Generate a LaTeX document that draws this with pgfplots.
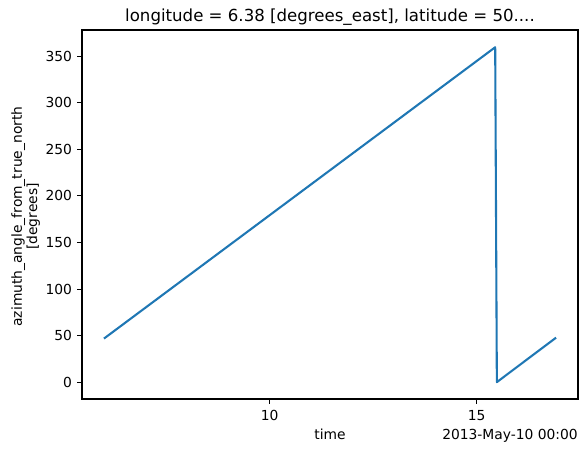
\documentclass[border=0pt]{standalone}
\usepackage{fontspec}
\setmainfont{DejaVu Sans}
\usepackage{pgfplots}
\pgfplotsset{compat=1.18}
\definecolor{mplblue}{HTML}{1F77B4}
\begin{document}
\begin{tikzpicture}[font=\fontsize{10}{12}\selectfont]
\useasboundingbox (0,0) rectangle (423.36bp,326.16bp);
\begin{axis}[
  at={(59.04bp,38.88bp)}, anchor=south west,
  scale only axis, width=357.12bp, height=265.68bp,
  xmin=5.47, xmax=17.45, ymin=-17.8, ymax=378,
  xtick={10,15}, ytick={0,50,...,350},
  xtick pos=left, ytick pos=left,
  tick align=outside, major tick length=3.5bp,
  every tick/.style={line width=0.8bp, black},
  axis line style={line width=0.8bp},
  /pgf/number format/assume math mode=true,
  xticklabel style={anchor=base, inner sep=0pt, font=\fontsize{10}{12}\selectfont},
  xticklabel shift=12.1bp,
  yticklabel style={anchor=east, inner sep=0pt, font=\fontsize{10}{12}\selectfont},
  yticklabel shift=3.5bp,
  clip=false,
]
\addplot[mplblue, line width=1.5bp, line join=round] coordinates {
  (6.00,47) (15.45,359.5) (15.49,0.3) (16.92,48)
};
\node[anchor=base, inner sep=0pt, font=\fontsize{12}{14}\selectfont] at ([yshift=6bp]rel axis cs:0.5,1) {longitude = 6.38 [degrees\_east], latitude = 50....};
\node[anchor=base, inner sep=0pt] at ([yshift=-29.5bp]rel axis cs:0.5,0) {time};
\node[anchor=base east, inner sep=0pt] at ([yshift=-29.5bp]rel axis cs:1,0) {2013-May-10 00:00};
\node[rotate=90, align=center, inner sep=0pt, anchor=center, font=\fontsize{10}{11}\selectfont] at ([xshift=-40.5bp,yshift=-1.5bp]rel axis cs:0,0.5) {azimuth\_angle\_from\_true\_north\\{}{[degrees]}};
\end{axis}
\end{tikzpicture}
\end{document}
